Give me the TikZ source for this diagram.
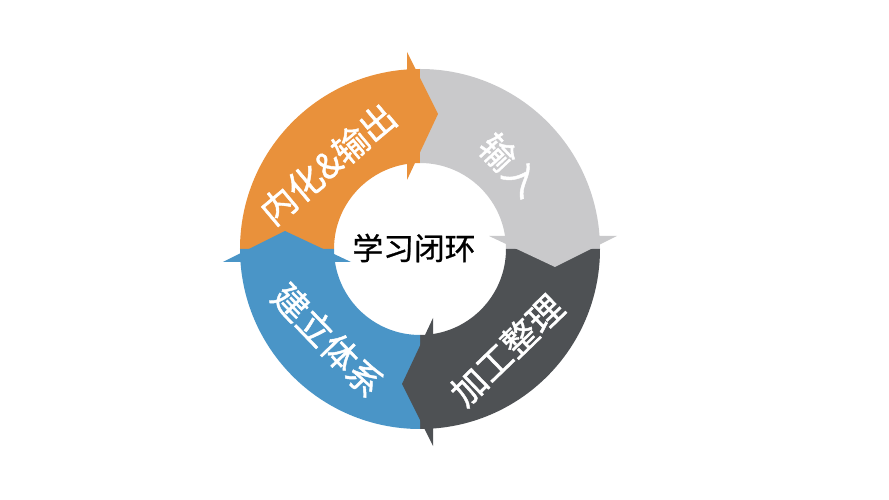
\documentclass[tikz,border=0pt]{standalone}
\usepackage{fontspec}
\newfontfamily\cjk[FakeBold=1.2]{Noto Sans CJK SC}
\newfontfamily\cjkhub[FakeBold=0.8]{Noto Sans CJK SC}
\definecolor{segorange}{HTML}{E9913B}
\definecolor{seglight}{HTML}{C9C9CB}
\definecolor{segdark}{HTML}{4E5154}
\definecolor{segblue}{HTML}{4A95C7}
\begin{document}
\begin{tikzpicture}[x=0.02cm,y=0.02cm,
	lbl/.style={text=white,font=\cjk\fontsize{20}{24}\selectfont,inner sep=0pt},
	hub/.style={text=black,font=\cjkhub\fontsize{17.5}{21}\selectfont,inner sep=0pt}]
	\useasboundingbox (-420,-251) rectangle (469,249);
	
		\fill[segorange] (180:180) arc[start angle=180,end angle=90,radius=180] -- (90:86) arc[start angle=90,end angle=180,radius=86] -- cycle;
		\fill[seglight] (90:180) arc[start angle=90,end angle=0,radius=180] -- (0:86) arc[start angle=0,end angle=90,radius=86] -- cycle;
		\fill[segdark] (0:180) arc[start angle=0,end angle=-90,radius=180] -- (-90:86) arc[start angle=-90,end angle=0,radius=86] -- cycle;
		\fill[segblue] (-90:180) arc[start angle=-90,end angle=-180,radius=180] -- (-180:86) arc[start angle=-180,end angle=-90,radius=86] -- cycle;
	
		\begin{scope}[rotate=0]
			\fill[segorange] (-13,69) -- (-13,197) -- (18,135) -- cycle;
		\end{scope}
		\begin{scope}[rotate=-90]
			\fill[seglight] (-13,69) -- (-13,197) -- (18,135) -- cycle;
		\end{scope}
		\begin{scope}[rotate=-180]
			\fill[segdark] (-13,69) -- (-13,197) -- (18,135) -- cycle;
		\end{scope}
		\begin{scope}[rotate=90]
			\fill[segblue] (-13,69) -- (-13,197) -- (18,135) -- cycle;
		\end{scope}
	
		\node[lbl,rotate=40] (out) at (-92,85) {内化\&输出};
		\node[lbl,rotate=-47] (in) at (90,84) {输入};
		\node[lbl,rotate=44] (proc) at (87,-101) {加工整理};
		\node[lbl,rotate=-46] (sys) at (-92,-91) {建立体系};
		\node[hub] (loop) at (-6,1) {学习闭环};
\end{tikzpicture}
\end{document}
